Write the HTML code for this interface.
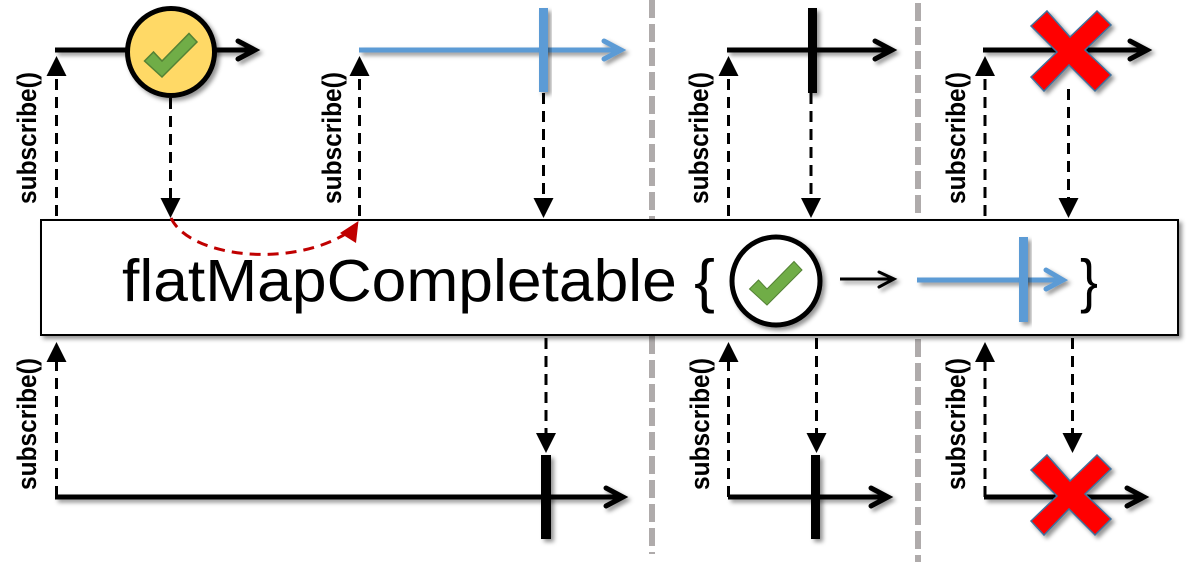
<!DOCTYPE html>
<html><head><meta charset="utf-8"><style>
html,body{margin:0;padding:0;background:#fff}
svg{display:block}
text{font-family:"Liberation Sans",sans-serif}
.sub{font-size:27px;font-weight:bold;fill:#000}
</style></head><body>
<svg width="1192" height="565" viewBox="0 0 1192 565" xmlns="http://www.w3.org/2000/svg">
<defs>
<filter id="s" x="-30%" y="-30%" width="170%" height="170%" filterUnits="objectBoundingBox"><feDropShadow dx="3" dy="3" stdDeviation="2.2" flood-color="#000" flood-opacity=".42"/></filter>
<filter id="l" filterUnits="userSpaceOnUse" x="0" y="0" width="1192" height="565"><feDropShadow dx="3" dy="3" stdDeviation="2.2" flood-color="#000" flood-opacity=".42"/></filter>
<path id="check" d="M144.500 61 L153.500 52 L162 61 L189 33.500 L197 42 L162 77 Z"/>
<path id="x" d="M-22 -39 L1 -13 L28 -39 L42 -25 L16 0 L42 25 L26 41 L0 15 L-25 41 L-38 27 L-12 2 L-38 -24 Z"/>
</defs>

<!-- gray dividers -->
<g stroke="#AFABAB" stroke-width="6" stroke-dasharray="18 6" fill="none">
<path d="M652 0V554"/>
<path d="M918 3V562"/>
</g>

<!-- timelines -->
<g filter="url(#l)" fill="none" stroke-linecap="butt">
<g stroke="#000" stroke-width="5">
<path d="M55 50H255"/><path d="M238 41 L255 50 L238 59" stroke-linecap="round" stroke-linejoin="miter"/>
<path d="M727 50H892"/><path d="M875 41 L892 50 L875 59" stroke-linecap="round"/>
<path d="M983 50H1147"/><path d="M1130 41 L1147 50 L1130 59" stroke-linecap="round"/>
<path d="M55 497H623"/><path d="M606 488 L623 497 L606 506" stroke-linecap="round"/>
<path d="M728 497H888"/><path d="M871 488 L888 497 L871 506" stroke-linecap="round"/>
<path d="M984 497H1144"/><path d="M1127 488 L1144 497 L1127 506" stroke-linecap="round"/>
</g>
<g stroke="#5B9BD5" stroke-width="5">
<path d="M359 50H621"/><path d="M604 41 L621 50 L604 59" stroke-linecap="round"/>
</g>
</g>
<rect x="539" y="8" width="9" height="84" fill="#5B9BD5" filter="url(#s)"/>
<g fill="#000" filter="url(#l)">
<rect x="808" y="8" width="9" height="85"/>
<rect x="541" y="455" width="10" height="84"/>
<rect x="811" y="455" width="9" height="84"/>
</g>

<!-- top circle -->
<circle cx="171" cy="52" r="43.500" fill="#FFD966" stroke="#000" stroke-width="5" filter="url(#s)"/>
<use href="#check" fill="#70AD47" stroke="#548235" stroke-width="1.500"/>

<!-- X marks -->
<g filter="url(#l)" fill="#FF0000" stroke="#41719C" stroke-width="1.500">
<use href="#x" transform="translate(1069,50)"/>
<use href="#x" transform="translate(1069,494)"/>
</g>

<!-- box -->
<rect x="41" y="220" width="1137" height="115" fill="#fff" stroke="#000" stroke-width="2" filter="url(#s)"/>

<!-- dashed connectors -->
<g stroke="#000" stroke-width="3" stroke-dasharray="11 7" fill="none">
<path d="M56.500 216V76"/><path d="M359.500 216V76"/><path d="M728.500 216V76"/><path d="M985 216V76"/>
<path d="M170.500 98V198"/><path d="M543.500 93V198"/><path d="M811 93V198"/><path d="M1068.500 89V198"/>
<path d="M56.500 497V362"/><path d="M728.500 497V362"/><path d="M985 497V362"/>
<path d="M546 338V433"/><path d="M816.500 338V433"/><path d="M1072.500 338V433"/>
</g>
<g fill="#000">
<path d="M56.500 56 L66.500 76 L46.500 76Z"/><path d="M359.500 56 L369.500 76 L349.500 76Z"/><path d="M728.500 56 L738.500 76 L718.500 76Z"/><path d="M985 56 L995 76 L975 76Z"/>
<path d="M170.500 218 L160.500 198 L180.500 198Z"/><path d="M543.500 218 L533.500 198 L553.500 198Z"/><path d="M811 218 L801 198 L821 198Z"/><path d="M1068.500 218 L1058.500 198 L1078.500 198Z"/>
<path d="M56.500 342 L66.500 362 L46.500 362Z"/><path d="M728.500 342 L738.500 362 L718.500 362Z"/><path d="M985 342 L995 362 L975 362Z"/>
<path d="M546 453 L536 433 L556 433Z"/><path d="M816.500 453 L806.500 433 L826.500 433Z"/><path d="M1072.500 453 L1062.500 433 L1082.500 433Z"/>
</g>

<!-- red curve -->
<path d="M171 218 C190 258 292 268 347 233" fill="none" stroke="#C00000" stroke-width="3" stroke-dasharray="11 7"/>
<path d="M358.500 221 L356 243 L340 233Z" fill="#C00000"/>

<!-- box content -->
<text x="122" y="301" font-size="59" textLength="593" lengthAdjust="spacingAndGlyphs">flatMapCompletable {</text>
<circle cx="776" cy="281" r="44" fill="#fff" stroke="#000" stroke-width="5" filter="url(#s)"/>
<use href="#check" fill="#70AD47" stroke="#548235" stroke-width="1" transform="translate(605,228)"/>
<g filter="url(#l)" fill="none">
<path d="M840 279H894" stroke="#000" stroke-width="3"/><path d="M879 272 L894 279 L879 287" stroke="#000" stroke-width="3" stroke-linecap="round"/>
<path d="M917 280H1063" stroke="#5B9BD5" stroke-width="5"/><path d="M1046 270 L1063 280 L1046 289" stroke="#5B9BD5" stroke-width="5" stroke-linecap="round"/>
</g>
<rect x="1019" y="237" width="9" height="85" fill="#5B9BD5" filter="url(#s)"/>
<text x="1080" y="301" font-size="59" textLength="18" lengthAdjust="spacingAndGlyphs">}</text>

<!-- labels -->
<g class="sub">
<text class="sub" transform="translate(36,204) rotate(-90)" textLength="132" lengthAdjust="spacingAndGlyphs">subscribe()</text>
<text class="sub" transform="translate(341,204) rotate(-90)" textLength="132" lengthAdjust="spacingAndGlyphs">subscribe()</text>
<text class="sub" transform="translate(708,204) rotate(-90)" textLength="132" lengthAdjust="spacingAndGlyphs">subscribe()</text>
<text class="sub" transform="translate(965,204) rotate(-90)" textLength="132" lengthAdjust="spacingAndGlyphs">subscribe()</text>
<text class="sub" transform="translate(36,490) rotate(-90)" textLength="132" lengthAdjust="spacingAndGlyphs">subscribe()</text>
<text class="sub" transform="translate(709,490) rotate(-90)" textLength="132" lengthAdjust="spacingAndGlyphs">subscribe()</text>
<text class="sub" transform="translate(965,490) rotate(-90)" textLength="132" lengthAdjust="spacingAndGlyphs">subscribe()</text>
</g>
</svg>
</body></html>
